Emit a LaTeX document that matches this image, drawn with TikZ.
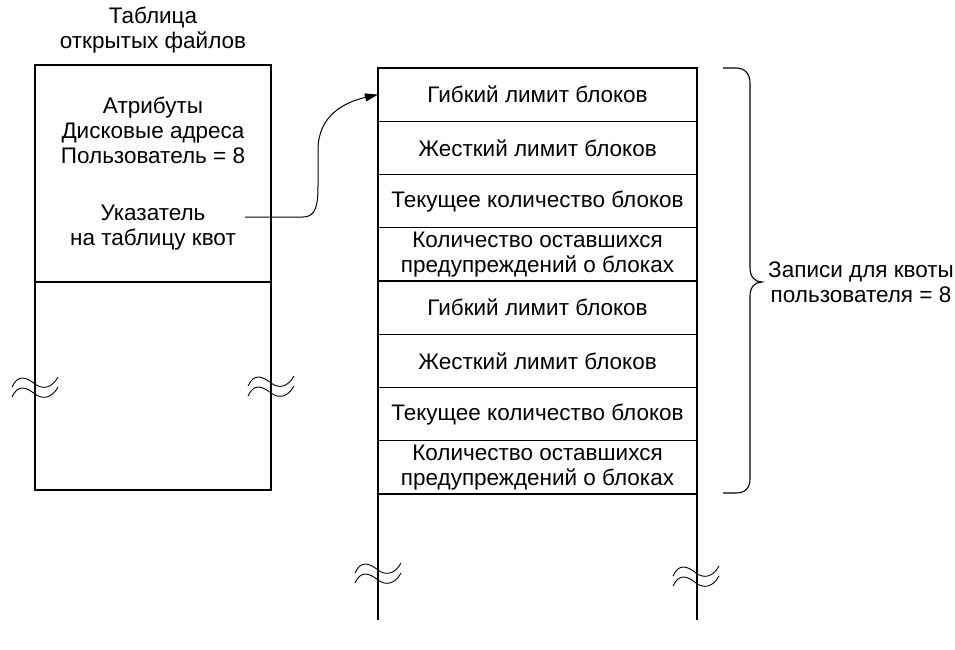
\documentclass[tikz,border=0pt]{standalone}
\usepackage{fontspec}
\setmainfont{Liberation Sans}
\usepackage{tikz}
\usetikzlibrary{arrows.meta,positioning,chains}
\tikzset{
  yachejka/.style={draw,line width=1.1pt,outer sep=0pt,inner sep=0pt,minimum width=319pt,minimum height=53.25pt,align=center,font=\fontsize{22.5}{24.5}\selectfont},
  tekst/.style={align=center,inner sep=0pt,font=\fontsize{22.5}{25}\selectfont},
  liniya/.style={line width=1.1pt},
  strelka/.style={-{Triangle[length=13pt,width=8pt]},line width=1pt},
  razryv/.pic={
    \draw[line width=0.9pt] (-23,3) .. controls (-17,-10) and (-9,-7) .. (0,0) .. controls (8,6) and (17,4) .. (23,-7);
    \draw[line width=0.9pt] (-23,13) .. controls (-17,0) and (-9,3) .. (0,10) .. controls (8,16) and (17,14) .. (23,3);
  },
}

\begin{document}
\begin{tikzpicture}[x=1pt,y=-1pt]
  \useasboundingbox (0,0) rectangle (955,649);
  % tablica otkrytyh fajlov
  \node[tekst] (zag) at (153,30) {Таблица\\открытых файлов};
  \node[yachejka,minimum width=236pt,minimum height=217pt] (verh) at (153,173.5) {};
  \node[tekst] (atr) at (153,130) {Атрибуты\\Дисковые адреса\\Пользователь = 8};
  \node[tekst] (ukaz) at (153,227.5) {Указатель\\на таблицу квот};
  \draw[liniya] (verh.south west) -- (35,490) -- (271,490) -- (verh.south east);
  \pic at (35,384) {razryv};
  \pic at (271,383) {razryv};
  % tablica kvot
  \begin{scope}[start chain=going below,node distance=0pt]
    \node[yachejka,on chain] (r1) at (537.5,94.6) {Гибкий лимит блоков};
    \node[yachejka,on chain] (r2) {Жесткий лимит блоков};
    \node[yachejka,on chain] (r3) {Текущее количество блоков};
    \node[yachejka,on chain] (r4) {Количество оставшихся\\предупреждений о блоках};
    \node[yachejka,on chain] (r5) {Гибкий лимит блоков};
    \node[yachejka,on chain] (r6) {Жесткий лимит блоков};
    \node[yachejka,on chain] (r7) {Текущее количество блоков};
    \node[yachejka,on chain] (r8) {Количество оставшихся\\предупреждений о блоках};
  \end{scope}
  \draw[liniya] (r8.south west) -- ++(0,126);
  \draw[liniya] (r8.south east) -- ++(0,126);
  \pic at (378,570) {razryv};
  \pic at (696,573) {razryv};
  % ukazatel
  \coordinate (nachalo) at (245,217);
  \draw[strelka] (nachalo) -- (303,217) .. controls (316,217) and (318,205) .. (318,185) -- (318,150) .. controls (318,115) and (345,102) .. (r1.west);
  % skobka
  \draw[liniya] (723,68) -- (736,68) .. controls (745,68) and (750,74) .. (750,83) -- (750,268) .. controls (750,277) and (755,282) .. (762,282) .. controls (755,282) and (750,287) .. (750,296) -- (750,479) .. controls (750,488) and (745,493) .. (736,493) -- (723,493);
  \node[tekst,anchor=west] (zapisi) at (768,282) {Записи для квоты\\пользователя = 8};
\end{tikzpicture}
\end{document}
